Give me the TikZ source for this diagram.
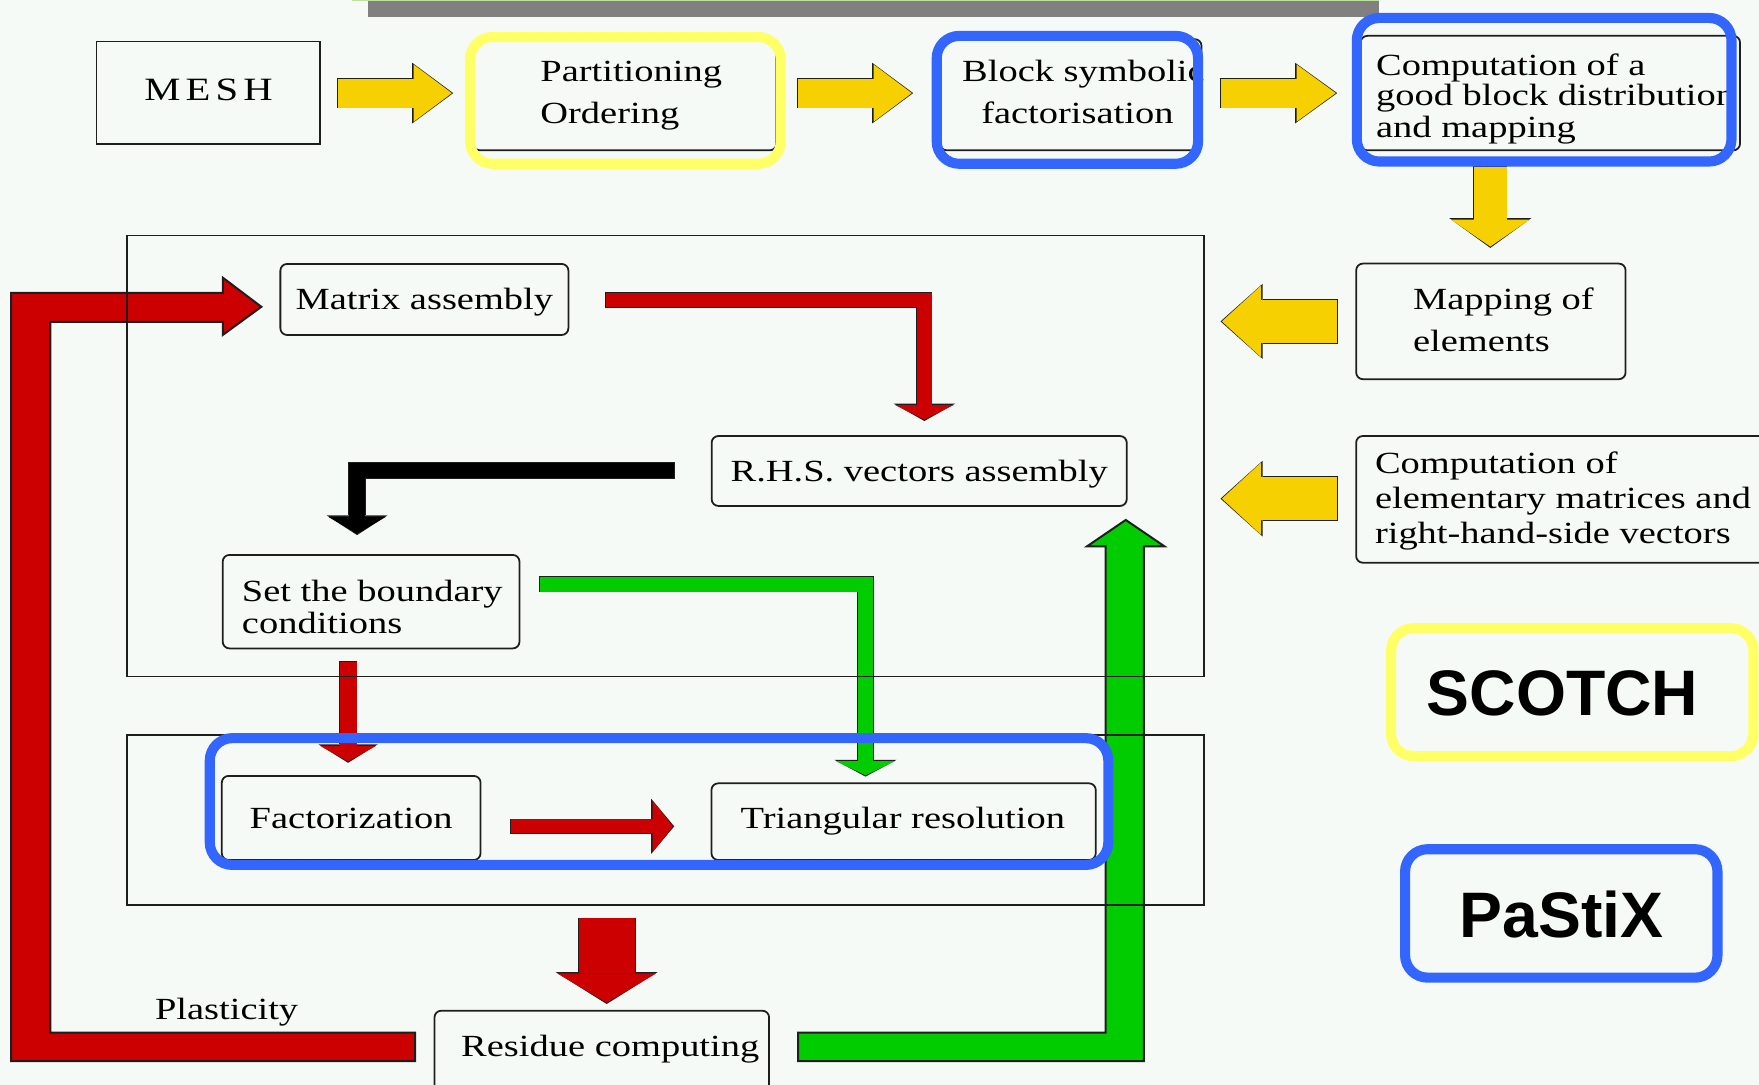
\documentclass[tikz,border=0pt]{standalone}
\usepackage{fontspec}
\setmainfont{Liberation Serif}
\newfontfamily\diafont[FakeStretch=1.25]{Liberation Serif}
\newfontfamily\tagfont{Liberation Sans}
\usetikzlibrary{arrows.meta}

\definecolor{paper}{RGB}{246,250,247}
\definecolor{edge}{RGB}{30,30,30}
\definecolor{gold}{RGB}{246,208,0}
\definecolor{flowred}{RGB}{204,0,0}
\definecolor{flowgreen}{RGB}{0,204,0}
\definecolor{hlblue}{RGB}{51,102,255}
\definecolor{hlyellow}{RGB}{255,255,102}
\definecolor{bargray}{RGB}{128,128,128}
\definecolor{barline}{RGB}{190,225,160}

% fat outlined block arrow: fill colour, shaft width, head width, head length (mm), path
\newcommand\fatarrow[5]{%
  \pgfmathsetmacro\faWo{#2+0.14}%
  \pgfmathsetmacro\faHWo{#3+0.3}%
  \pgfmathsetmacro\faHLo{#4+0.25}%
  \draw[draw=edge, line width=\faWo mm, line join=miter, shorten <=-0.07mm,
        -{Triangle[length=\faHLo mm, width=\faHWo mm, line width=0pt]}] #5;
  \draw[draw=#1, line width=#2mm, line join=miter, shorten >=0.12mm,
        -{Triangle[length=#4mm, width=#3mm, line width=0pt]}] #5;
}

\begin{document}
\begin{tikzpicture}[x=0.01cm, y=-0.01cm,
  box/.style={draw=edge, line width=0.45pt, fill=paper, rounded corners=0.6mm,
              inner sep=0pt, font={\diafont\fontsize{7.8pt}{9pt}\selectfont},
              text height=2.4mm, text depth=0.6mm},
  sharpbox/.style={box, rounded corners=0pt},
  txt/.style={inner sep=0pt, font={\diafont\fontsize{7.8pt}{9pt}\selectfont},
              text height=2.4mm, text depth=0.6mm},
  line/.style={txt, anchor=west},
  frame/.style={draw=edge, line width=0.45pt},
  ring/.style={line width=0.9mm, rounded corners=2mm},
  tag/.style={inner sep=0pt, font={\tagfont\bfseries\fontsize{16.3pt}{18pt}\selectfont}},
]
% page
\fill[paper] (0,0) rectangle (1568,967);
\useasboundingbox (0,0) rectangle (1568,967);
\clip (0,0) rectangle (1568,967);

% title bar remnant
\fill[barline] (313.6,0) rectangle (1229,1.2);
\fill[bargray] (328,1.2) rectangle (1229,14.8);

% ---------- boxes ----------
\node[sharpbox, minimum width=19.9mm, minimum height=9.1mm] (mesh) at (185.5,82.5) {};
\node[inner sep=0pt, font={\diafont\fontsize{8.25pt}{10pt}\selectfont}] (meshtxt) at (186,80.5)
  {M\kern1.3pt E\kern1.3pt S\kern1.3pt H};

\node[box, minimum width=27mm, minimum height=9.8mm] (part) at (557,85) {};
\node[line] (part1) at (481,64) {Partitioning};
\node[line] (part2) at (481,101) {Ordering};

\node[box, minimum width=23.3mm, minimum height=9.9mm] (block) at (954.5,84.5) {};
\node[line] (block1) at (857,64) {Block symbolic};
\node[line] (block2) at (874,101) {factorisation};

\node[box, minimum width=33.8mm, minimum height=10.2mm] (comp) at (1382,83) {};
\node[line] (comp1) at (1226,58) {Computation of a};
\node[line] (comp2) at (1226,84.7) {good block distribution};
\node[line] (comp3) at (1226,114) {and mapping};

\node[box, minimum width=24mm, minimum height=10.3mm] (map) at (1329,286.5) {};
\node[line] (map1) at (1259,267) {Mapping of};
\node[line] (map2) at (1259,304.6) {elements};

\node[box, minimum width=38.1mm, minimum height=11.29mm] (elem) at (1399.5,445.15) {};
\node[line] (elem1) at (1225,413) {Computation of};
\node[line] (elem2) at (1225,444.2) {elementary matrices and};
\node[line] (elem3) at (1225,475.4) {right-hand-side vectors};

\node[box, minimum width=25.66mm, minimum height=6.33mm] (ma) at (378.3,266.95) {Matrix assembly};
\node[box, minimum width=36.98mm, minimum height=6.23mm] (rhs) at (819.4,419.85) {R.H.S. vectors assembly};

\node[box, minimum width=26.44mm, minimum height=8.33mm] (sbc) at (330.8,536.35) {};
\node[line] (sbc1) at (215,527.4) {Set the boundary};
\node[line] (sbc2) at (215,555.7) {conditions};

\node[box, minimum width=23.05mm, minimum height=7.49mm] (fact) at (313.05,729.15) {Factorization};
\node[box, minimum width=34.24mm, minimum height=6.83mm] (tri) at (805.5,732.45) {};
\node[txt] (tritxt) at (804.8,729.5) {Triangular resolution};

\node[box, minimum width=29.81mm, minimum height=8.4mm] (res) at (536.45,943) {};
\node[txt] (restxt) at (544,933) {Residue computing};

\node[txt] (plast) at (202,900) {Plasticity};

% ---------- yellow flow (top row and inputs) ----------
\coordinate (y1s) at (301,83);    \coordinate (y1e) at (404,83);
\coordinate (y2s) at (711,83);    \coordinate (y2e) at (814,83);
\coordinate (y3s) at (1088,83);   \coordinate (y3e) at (1192,83);
\coordinate (y4s) at (1328.5,148.6); \coordinate (y4e) at (1328.5,221);
\coordinate (y5s) at (1192,286.5); \coordinate (y5e) at (1088,286.5);
\coordinate (y6s) at (1192,444.5); \coordinate (y6e) at (1088,444.5);
\fatarrow{gold}{2.6}{5.1}{3.4}{(y1s) -- (y1e)}
\fatarrow{gold}{2.6}{5.1}{3.4}{(y2s) -- (y2e)}
\fatarrow{gold}{2.6}{5.1}{3.5}{(y3s) -- (y3e)}
\fatarrow{gold}{2.9}{7.0}{2.4}{(y4s) -- (y4e)}
\fatarrow{gold}{3.9}{6.4}{3.5}{(y5s) -- (y5e)}
\fatarrow{gold}{3.85}{6.45}{3.5}{(y6s) -- (y6e)}

% ---------- inner flow ----------
\coordinate (r1s) at (540,267.5);   \coordinate (r1e) at (824,375.3);
\coordinate (k1s) at (601,419.4);   \coordinate (k1e) at (318.3,477);
\coordinate (g1s) at (481,520.7);   \coordinate (g1e) at (771.5,692.3);
\coordinate (r2s) at (310.3,589.8); \coordinate (r2e) at (310.3,680);
\coordinate (r3s) at (455.6,736.6); \coordinate (r3e) at (601,736.6);
\coordinate (r4s) at (540.8,818.6); \coordinate (r4e) at (540.8,895);
\fatarrow{flowred}{1.3}{5.2}{1.3}{(r1s) -| (r1e)}
\fatarrow{black}{1.4}{5.1}{1.5}{(k1s) -| (k1e)}
\fatarrow{flowgreen}{1.35}{5.25}{1.25}{(g1s) -| (g1e)}
\fatarrow{flowred}{1.5}{5.0}{1.4}{(r2s) -- (r2e)}
\fatarrow{flowred}{1.25}{4.6}{1.8}{(r3s) -- (r3e)}
\fatarrow{flowred}{5.0}{8.8}{2.6}{(r4s) -- (r4e)}

% ---------- outer loops from the residue ----------
\filldraw[fill=flowred, draw=edge, line width=0.5pt, line join=miter]
  (370,920.5) -- (45,920.5) -- (45,287) -- (198.6,287) -- (198.6,298.6)
  -- (233,273.5) -- (198.6,247.5) -- (198.6,261) -- (10,261) -- (10,946)
  -- (370,946) -- cycle;
\filldraw[fill=flowgreen, draw=edge, line width=0.5pt, line join=miter]
  (711.4,920.5) -- (985.6,920.5) -- (985.6,487) -- (969,487) -- (1003.5,463.5)
  -- (1038,487) -- (1019.7,487) -- (1019.7,946) -- (711.4,946) -- cycle;

% ---------- stage frames ----------
\draw[frame] (113,210) rectangle (1073,603);
\draw[frame] (113,655) rectangle (1073,807);

% ---------- tool highlights ----------
\draw[hlyellow, ring] (419,33) rectangle (696,146);
\draw[hlblue, ring] (835,32) rectangle (1068,146);
\draw[hlblue, ring] (1209.5,16) rectangle (1543.5,144);
\draw[hlblue, ring] (187,658) rectangle (988,771);

\draw[hlyellow, ring] (1240,560) rectangle (1563,674);
\node[tag] (scotch) at (1393,618) {SCOTCH};
\draw[hlblue, ring] (1252.5,757) rectangle (1531,871.5);
\node[tag] (pastix) at (1392,815) {PaStiX};
\end{tikzpicture}
\end{document}
